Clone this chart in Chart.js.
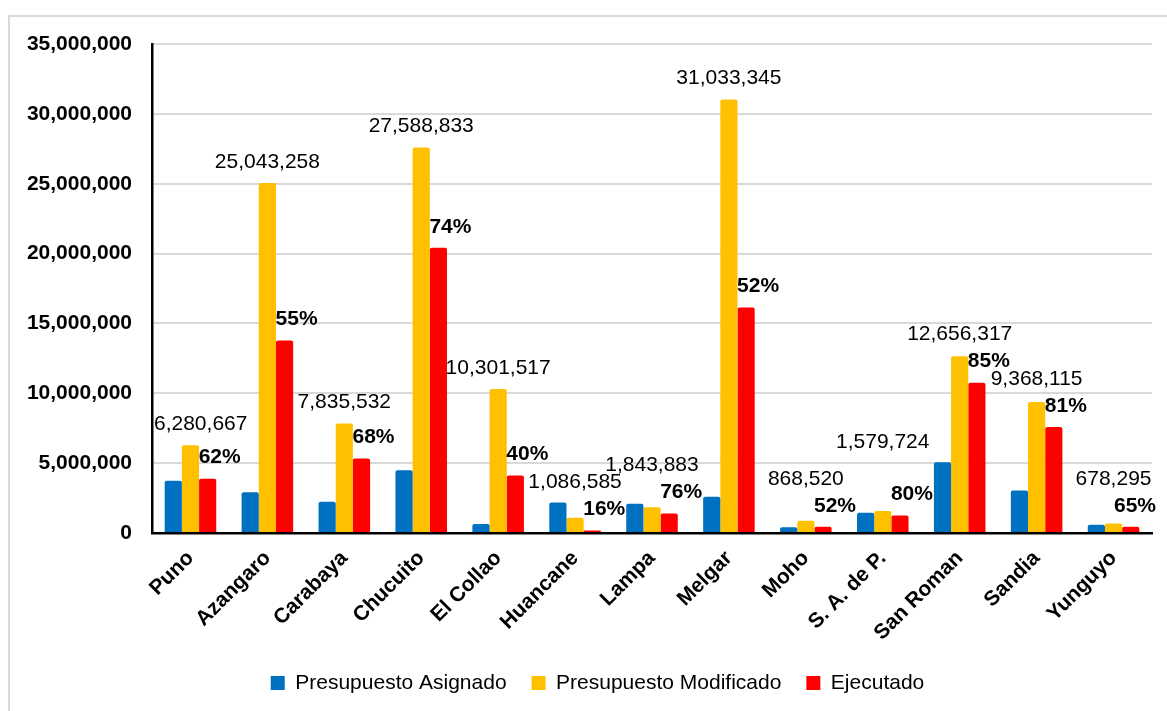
<!DOCTYPE html>
<html>
<head>
<meta charset="utf-8">
<script src="https://cdn.jsdelivr.net/npm/chart.js@4.4.1/dist/chart.umd.min.js"></script>
<style>
  html, body { margin: 0; padding: 0; background: #fff; overflow: hidden; }
  #wrap { width: 1167px; height: 711px; }
</style>
</head>
<body>
<div id="wrap"><canvas id="grafica" width="1167" height="711"></canvas></div>
<script>
// provincias
var provincias = ['Puno', 'Azangaro', 'Carabaya', 'Chucuito', 'El Collao', 'Huancane', 'Lampa',
  'Melgar', 'Moho', 'S. A. de P.', 'San Roman', 'Sandia', 'Yunguyo'];

// montos en soles
var presupuestoAsignado = [3740000, 2920000, 2240000, 4490000, 640000, 2180000, 2100000,
  2600000, 420000, 1450000, 5070000, 3040000, 590000];
var presupuestoModificado = [6280667, 25043258, 7835532, 27588833, 10301517, 1086585, 1843883,
  31033345, 868520, 1579724, 12656317, 9368115, 678295];
var ejecutado = [3890000, 13770000, 5330000, 20420000, 4120000, 170000, 1400000,
  16140000, 450000, 1260000, 10760000, 7590000, 440000];
// % de avance (etiquetas sobre Ejecutado)
var avance = [62, 55, 68, 74, 40, 16, 76, 52, 52, 80, 85, 81, 65];

var fuente = '"Liberation Sans", Arial, sans-serif';

var fondo = {
  id: 'fondo',
  afterLayout: function (chart) {
    // la leyenda del original esta un poco corrida a la derecha
    if (chart.legend) chart.legend.left += 23;
  },
  beforeDraw: function (chart) {
    var ctx = chart.ctx;
    ctx.save();
    ctx.fillStyle = '#fff';
    ctx.fillRect(0, 0, chart.width, chart.height);
    ctx.strokeStyle = '#d9d9d9';
    ctx.lineWidth = 2;
    ctx.strokeRect(9, 16, chart.width + 50, chart.height + 50);
    ctx.restore();
  }
};

// etiquetas: monto modificado y % ejecutado
var etiquetas = {
  id: 'etiquetas',
  afterDatasetsDraw: function (chart) {
    var ctx = chart.ctx, area = chart.chartArea;
    var amarillas = chart.getDatasetMeta(1).data;
    var rojas = chart.getDatasetMeta(2).data;
    var prev = null;
    ctx.save();
    ctx.fillStyle = '#000';
    ctx.textAlign = 'center';
    ctx.textBaseline = 'middle';
    amarillas.forEach(function (bar, i) {
      var roja = rojas[i];
      ctx.font = 'bold 21px ' + fuente;
      var pct = avance[i] + '%';
      var pw = ctx.measureText(pct).width;
      var px = Math.min(roja.x + 12, area.right + 4 - pw / 2);
      var py = roja.y - 21;
      ctx.fillText(pct, px, py);

      ctx.font = '21px ' + fuente;
      var txt = presupuestoModificado[i].toLocaleString('en-US');
      var w = ctx.measureText(txt).width;
      var x = Math.max(bar.x, area.left + 2 + w / 2);
      x = Math.min(x, area.right - w / 2);
      var y = Math.min(bar.y - 21, py - 27);
      // si choca con la etiqueta anterior, subirla
      if (prev && x - w / 2 < prev.r && Math.abs(y - prev.y) < 15) {
        y = prev.y - 37;
      }
      ctx.fillText(txt, x, y);
      prev = { r: x + w / 2, y: y };
    });
    ctx.restore();
  }
};

Chart.defaults.font.family = fuente;
Chart.defaults.color = '#000';

var g = new Chart(document.getElementById('grafica'), {
  type: 'bar',
  data: {
    labels: provincias,
    datasets: [
      { label: 'Presupuesto Asignado', data: presupuestoAsignado, backgroundColor: '#0070C0', borderRadius: 2 },
      { label: 'Presupuesto Modificado', data: presupuestoModificado, backgroundColor: '#FFC000', borderRadius: 2 },
      { label: 'Ejecutado', data: ejecutado, backgroundColor: '#FF0000', borderRadius: 2 }
    ]
  },
  options: {
    responsive: false,
    animation: false,
    devicePixelRatio: 1,
    layout: { padding: { left: 20, right: 15, top: 44, bottom: 7.5 } },
    datasets: { bar: { categoryPercentage: 0.67, barPercentage: 1.0 } },
    scales: {
      x: {
        grid: { display: false, drawTicks: false },
        border: { display: true, color: '#000', width: 2.5 },
        ticks: {
          autoSkip: false,
          minRotation: 45,
          maxRotation: 45,
          padding: 13,
          color: '#000',
          font: { size: 21, weight: 'bold' }
        },
        afterFit: function (s) { s.height = 114.5; }
      },
      y: {
        min: 0,
        max: 35000000,
        grid: { color: '#d9d9d9', lineWidth: 2, drawTicks: false },
        border: { display: true, color: '#000', width: 2.5 },
        ticks: {
          stepSize: 5000000,
          padding: 20,
          color: '#000',
          font: { size: 21, weight: 'bold' },
          callback: function (v) { return v.toLocaleString('en-US'); }
        },
        afterFit: function (s) { s.width = 132; }
      }
    },
    plugins: {
      tooltip: { enabled: false },
      legend: {
        position: 'bottom',
        labels: {
          boxWidth: 14,
          boxHeight: 14,
          padding: 25,
          color: '#000',
          font: { size: 21 }
        }
      }
    }
  },
  plugins: [fondo, etiquetas]
});
</script>
</body>
</html>
